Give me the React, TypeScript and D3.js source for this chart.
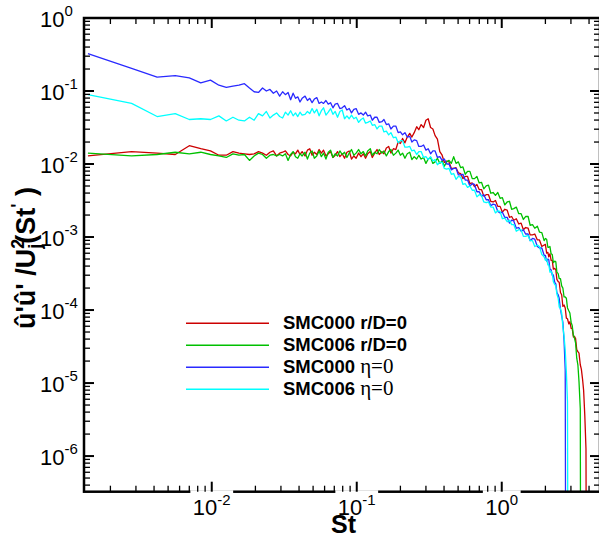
import React from 'react';
import * as d3 from 'd3';

// Strouhal numbers of the spectral bins (shared by all four spectra)
const stValues = [
  0.0014, 0.0028, 0.0042, 0.0056, 0.007, 0.0084, 0.0098, 0.0112, 0.0126, 0.014,
  0.0154, 0.0168, 0.0182, 0.0196, 0.021, 0.0224, 0.0238, 0.0252, 0.0266, 0.028,
  0.0294, 0.0308, 0.0322, 0.0336, 0.035, 0.0364, 0.0378, 0.0392, 0.0406, 0.042,
  0.044, 0.0457, 0.0474, 0.0492, 0.051, 0.053, 0.055, 0.057, 0.059, 0.0613,
  0.0636, 0.066, 0.0685, 0.071, 0.0737, 0.0765, 0.0794, 0.0824, 0.0855, 0.0887,
  0.092, 0.0955, 0.099, 0.103, 0.107, 0.111, 0.115, 0.119, 0.124, 0.128,
  0.133, 0.138, 0.143, 0.149, 0.154, 0.16, 0.166, 0.172, 0.179, 0.186,
  0.193, 0.2, 0.207, 0.215, 0.223, 0.232, 0.24, 0.249, 0.259, 0.268,
  0.278, 0.289, 0.3, 0.311, 0.323, 0.335, 0.347, 0.36, 0.374, 0.388,
  0.402, 0.417, 0.433, 0.449, 0.466, 0.484, 0.502, 0.521, 0.54, 0.56,
  0.581, 0.603, 0.626, 0.649, 0.674, 0.699, 0.725, 0.752, 0.781, 0.81,
  0.84, 0.872, 0.905, 0.939, 0.974, 1.01, 1.05, 1.09, 1.13, 1.17,
  1.21, 1.26, 1.31, 1.36, 1.41, 1.46, 1.52, 1.57, 1.63, 1.69,
  1.76, 1.82, 1.89, 1.96,
  2.0, 2.04, 2.08, 2.11, 2.15, 2.19, 2.23, 2.27, 2.32, 2.36,
  2.4, 2.45, 2.49, 2.54, 2.59, 2.64, 2.69, 2.74, 2.79, 2.84,
  2.9, 2.95, 3.01, 3.06, 3.12, 3.17, 3.23, 3.29, 3.35, 3.41,
  3.48, 3.54, 3.61, 3.67, 3.74, 3.81, 3.88,
];

// SMC000, jet axis (r/D = 0)
const psdSmc000Axis = [
  0.0129, 0.0148, 0.0141, 0.0135, 0.0178, 0.0162, 0.0151, 0.0132, 0.0132, 0.0148,
  0.0141, 0.0138, 0.0135, 0.0138, 0.0148, 0.0141, 0.0132, 0.0145, 0.0151, 0.0129,
  0.0141, 0.0145, 0.0151, 0.0135, 0.0129, 0.0145, 0.0138, 0.0155, 0.0135, 0.0148,
  0.0129, 0.0155, 0.0162, 0.0132, 0.0145, 0.0135, 0.0158, 0.0141, 0.0155, 0.0129,
  0.0138, 0.0148, 0.0123, 0.0132, 0.0148, 0.0126, 0.0138, 0.012, 0.0145, 0.0151,
  0.0117, 0.0129, 0.012, 0.0141, 0.0126, 0.0138, 0.012, 0.0138, 0.0148, 0.0123,
  0.0141, 0.0158, 0.0135, 0.0148, 0.0138, 0.0166, 0.0174, 0.0141, 0.0162, 0.0158,
  0.02, 0.0191, 0.0224, 0.0195, 0.0234, 0.0263, 0.0234, 0.0269, 0.0324, 0.0295,
  0.0347, 0.0316, 0.0398, 0.0417, 0.0316, 0.0302, 0.0245, 0.0219, 0.0148, 0.0132,
  0.0105, 0.011, 0.0107, 0.00871, 0.00871, 0.00891, 0.00759, 0.00741, 0.00631, 0.00676,
  0.00676, 0.00537, 0.0055, 0.0049, 0.00525, 0.00447, 0.00447, 0.00363, 0.0038, 0.0038,
  0.00309, 0.00302, 0.00316, 0.00263, 0.00263, 0.00219, 0.0024, 0.00234, 0.00186, 0.00191,
  0.0017, 0.00178, 0.00151, 0.00155, 0.00126, 0.00135, 0.00132, 0.00107, 0.00107, 0.0011,
  0.000912, 0.000912, 0.000741, 0.000776,
  0.000794, 0.000603, 0.000617, 0.000537, 0.000589, 0.000479, 0.000479, 0.000363, 0.000372, 0.000355,
  0.000263, 0.000245, 0.00024, 0.000174, 0.000162, 0.000112, 0.000117, 0.000107, 0.0000776, 0.0000759,
  0.0000646, 0.0000692, 0.0000562, 0.0000562, 0.0000427, 0.0000437, 0.0000407, 0.0000288, 0.0000269, 0.0000257,
  0.0000178, 0.0000155, 0.0000112, 0.00000794, 0.00000355, 0.00000126, 1e-12,
];

// SMC006, jet axis (r/D = 0)
const psdSmc006Axis = [
  0.0141, 0.0129, 0.0135, 0.0145, 0.0138, 0.0145, 0.0135, 0.0129, 0.0123, 0.0138,
  0.0132, 0.0135, 0.0112, 0.0129, 0.0141, 0.0135, 0.012, 0.0132, 0.0135, 0.0129,
  0.0135, 0.0129, 0.0138, 0.0112, 0.0135, 0.0148, 0.0126, 0.012, 0.0138, 0.0129,
  0.0145, 0.0117, 0.0141, 0.0151, 0.012, 0.0129, 0.0151, 0.0126, 0.0141, 0.0117,
  0.0145, 0.0155, 0.0123, 0.0138, 0.0129, 0.0151, 0.0135, 0.0145, 0.0123, 0.0141,
  0.0158, 0.0132, 0.0141, 0.0158, 0.0138, 0.0148, 0.0129, 0.0151, 0.0162, 0.0132,
  0.0145, 0.0138, 0.0158, 0.0141, 0.0151, 0.0129, 0.0148, 0.0158, 0.0132, 0.0141,
  0.0155, 0.0132, 0.0141, 0.012, 0.0138, 0.0145, 0.0115, 0.0126, 0.0117, 0.0132,
  0.0117, 0.0123, 0.0102, 0.0117, 0.0123, 0.0102, 0.0107, 0.012, 0.0102, 0.011,
  0.00933, 0.0107, 0.0112, 0.0102, 0.0126, 0.0102, 0.0107, 0.00891, 0.00912, 0.00724,
  0.00794, 0.00794, 0.00631, 0.00631, 0.00676, 0.0055, 0.00562, 0.00457, 0.00501, 0.00513,
  0.00398, 0.00407, 0.00372, 0.00407, 0.00339, 0.00347, 0.00275, 0.00302, 0.00309, 0.0024,
  0.00245, 0.00257, 0.00209, 0.00209, 0.00174, 0.00191, 0.00191, 0.00145, 0.00148, 0.00132,
  0.00141, 0.00117, 0.00115, 0.000891,
  0.000955, 0.000933, 0.000724, 0.000724, 0.000741, 0.000589, 0.000575, 0.000447, 0.000468, 0.000457,
  0.000331, 0.000316, 0.000269, 0.000269, 0.000214, 0.0002, 0.000151, 0.000151, 0.000145, 0.000107,
  0.0000977, 0.0000912, 0.0000676, 0.0000617, 0.0000447, 0.0000417, 0.0000355, 0.0000219, 0.0000178, 0.0000105,
  0.00000447, 1e-12,
];

// SMC000, lip line (eta = 0)
const psdSmc000Lip = [
  0.324, 0.204, 0.155, 0.162, 0.151, 0.129, 0.141, 0.12, 0.112, 0.117,
  0.12, 0.126, 0.11, 0.0977, 0.0955, 0.11, 0.1, 0.105, 0.0933, 0.1,
  0.0851, 0.0977, 0.0891, 0.0955, 0.0759, 0.0933, 0.0794, 0.0832, 0.0708, 0.0794,
  0.0851, 0.0741, 0.0794, 0.0692, 0.0776, 0.0813, 0.0676, 0.0708, 0.0676, 0.0741,
  0.0661, 0.0692, 0.0589, 0.0661, 0.0676, 0.0575, 0.0589, 0.0631, 0.055, 0.0575,
  0.0501, 0.0562, 0.0575, 0.0479, 0.0501, 0.0468, 0.0513, 0.0457, 0.0468, 0.0398,
  0.0437, 0.0437, 0.0372, 0.038, 0.0407, 0.0347, 0.0355, 0.0302, 0.0331, 0.0331,
  0.0269, 0.0275, 0.0251, 0.0269, 0.0234, 0.024, 0.02, 0.0214, 0.0209, 0.0174,
  0.0174, 0.0182, 0.0155, 0.0162, 0.0138, 0.0151, 0.0151, 0.0123, 0.0126, 0.0112,
  0.0117, 0.01, 0.01, 0.00832, 0.00871, 0.00871, 0.00708, 0.00708, 0.00724, 0.00603,
  0.00603, 0.00501, 0.00537, 0.00525, 0.00417, 0.00417, 0.00363, 0.0038, 0.00324, 0.00324,
  0.00269, 0.00282, 0.00275, 0.00224, 0.00214, 0.00219, 0.00186, 0.00186, 0.00155, 0.0017,
  0.00166, 0.00132, 0.00135, 0.0012, 0.00126, 0.0011, 0.0011, 0.000891, 0.000955, 0.000933,
  0.000741, 0.000708, 0.000708, 0.000562,
  0.000562, 0.000468, 0.000501, 0.00049, 0.000363, 0.000355, 0.000302, 0.000302, 0.00024, 0.000229,
  0.000174, 0.000162, 0.000145, 0.000102, 0.0000832, 0.0000676, 0.000038, 0.0000151, 1e-12,
];

// SMC006, lip line (eta = 0)
const psdSmc006Lip = [
  0.0891, 0.0676, 0.0447, 0.049, 0.0407, 0.0417, 0.0407, 0.0457, 0.0389, 0.0437,
  0.0398, 0.0389, 0.0437, 0.0398, 0.049, 0.0457, 0.0525, 0.0427, 0.0468, 0.0501,
  0.0447, 0.0427, 0.0513, 0.0468, 0.0537, 0.0457, 0.0501, 0.0447, 0.0513, 0.0468,
  0.0479, 0.0525, 0.049, 0.0575, 0.0501, 0.0562, 0.0457, 0.0537, 0.0589, 0.0468,
  0.0513, 0.0575, 0.0479, 0.0525, 0.0437, 0.0525, 0.055, 0.0417, 0.0457, 0.0417,
  0.0468, 0.0417, 0.0437, 0.0372, 0.0407, 0.0427, 0.0363, 0.0372, 0.0389, 0.0339,
  0.0347, 0.0302, 0.0331, 0.0331, 0.0275, 0.0282, 0.0251, 0.0269, 0.0229, 0.0234,
  0.0195, 0.0209, 0.0209, 0.017, 0.017, 0.0174, 0.0151, 0.0155, 0.0135, 0.0148,
  0.0148, 0.0123, 0.0126, 0.0115, 0.0126, 0.011, 0.0115, 0.00977, 0.0105, 0.0105,
  0.00871, 0.00851, 0.00871, 0.00724, 0.00741, 0.00617, 0.00676, 0.00661, 0.00525, 0.00537,
  0.00479, 0.00501, 0.00437, 0.00437, 0.00355, 0.0038, 0.00372, 0.00302, 0.00295, 0.00302,
  0.00257, 0.00257, 0.00214, 0.00229, 0.00224, 0.00178, 0.00182, 0.00162, 0.0017, 0.00148,
  0.00148, 0.0012, 0.00126, 0.00126, 0.00102, 0.00102, 0.00105, 0.000891, 0.000891, 0.000741,
  0.000776, 0.000741, 0.000575, 0.000537,
  0.000479, 0.000501, 0.000417, 0.000417, 0.000331, 0.000339, 0.000316, 0.000245, 0.000224, 0.000214,
  0.000166, 0.000145, 0.00011, 0.000105, 0.0000912, 0.0000589, 0.0000437, 0.0000282, 0.0000141, 0.00000562,
  1e-12,
];

const seriesNames = ['SMC000', 'SMC006', 'SMC000', 'SMC006'];
const seriesLocations = ['r/D=0', 'r/D=0', 'η=0', 'η=0'];
const seriesColors = ['#cc0000', '#00c000', '#2a2aff', '#00ffff'];
const seriesValues = [psdSmc000Axis, psdSmc006Axis, psdSmc000Lip, psdSmc006Lip];

const xMajorLabels = ['-2', '-1', '0'];
const yMajorLabels = ['0', '-1', '-2', '-3', '-4', '-5', '-6'];

const W = 599;
const H = 539;
const plot = { left: 84, right: 600, top: 18, bottom: 491.7 };
const xDomain: [number, number] = [0.001315, 4.76];
const yDomain: [number, number] = [1, 3.25e-7];

const SANS = 'Liberation Sans, Arial, Helvetica, sans-serif';
const SERIF = 'Liberation Serif, Times New Roman, serif';

const isDecade = (v: number) => Math.abs(Math.log10(v) - Math.round(Math.log10(v))) < 1e-6;

export default function App() {
  const x = d3.scaleLog().domain(xDomain).range([plot.left, plot.right]);
  const y = d3.scaleLog().domain(yDomain).range([plot.top, plot.bottom]);
  const line = d3
    .line<[number, number]>()
    .x((d) => x(d[0]))
    .y((d) => y(d[1]));

  const xTicks = x.ticks();
  const yTicks = y.ticks();
  const xMajors = xTicks.filter(isDecade);
  const yMajors = yTicks.filter(isDecade).sort((a, b) => b - a);

  const majorLen = 10;
  const minorLen = 6;

  const digitW = 0.556;
  const minusW = 0.333;
  const supWidth = (s: string) =>
    s.split('').reduce((acc, c) => acc + (c === '-' ? minusW : digitW), 0) * 15;

  return (
    <svg
      width={W}
      height={H}
      style={{ position: 'absolute', left: 0, top: 0, background: '#fff' }}
      fontFamily={SANS}
    >
      <defs>
        <clipPath id="plot-clip">
          <rect
            x={plot.left}
            y={plot.top}
            width={plot.right - plot.left}
            height={plot.bottom - plot.top}
          />
        </clipPath>
      </defs>
      <rect x={0} y={0} width={W} height={H} fill="#fff" />

      {/* spectra */}
      <g clipPath="url(#plot-clip)" fill="none" strokeWidth={1.3} strokeLinejoin="round">
        {seriesValues.map((vals, i) => {
          const pts = vals.map((v, k) => [stValues[k], v] as [number, number]);
          return <path key={i} d={line(pts) ?? ''} stroke={seriesColors[i]} />;
        })}
      </g>

      {/* frame */}
      <rect
        x={plot.left}
        y={plot.top}
        width={plot.right - plot.left}
        height={plot.bottom - plot.top}
        fill="none"
        stroke="#000"
        strokeWidth={2.5}
      />

      {/* label backings that interrupt the bottom axis line */}
      {xMajors.map((v, i) => {
        const w = 12.23 * 2 + supWidth(xMajorLabels[i] ?? '') + 5;
        return (
          <rect key={`bg${i}`} x={x(v) - w / 2} y={490.2} width={w} height={24} fill="#fff" />
        );
      })}

      {/* ticks */}
      <g stroke="#000">
        {xTicks.map((v, i) => {
          const len = isDecade(v) ? majorLen : minorLen;
          const sw = isDecade(v) ? 2 : 1.3;
          const px = x(v);
          return (
            <g key={`xt${i}`} strokeWidth={sw}>
              <line x1={px} x2={px} y1={plot.bottom} y2={plot.bottom - len} />
              <line x1={px} x2={px} y1={plot.top} y2={plot.top + len} />
            </g>
          );
        })}
        {yTicks.map((v, i) => {
          const len = isDecade(v) ? majorLen : minorLen;
          const sw = isDecade(v) ? 2 : 1.3;
          const py = y(v);
          return (
            <g key={`yt${i}`} strokeWidth={sw}>
              <line x1={plot.left} x2={plot.left + len} y1={py} y2={py} />
              <line x1={plot.right} x2={plot.right - len} y1={py} y2={py} />
            </g>
          );
        })}
      </g>

      {/* x tick labels */}
      {xMajors.map((v, i) => (
        <text key={`xl${i}`} x={x(v)} y={515} fontSize={22} textAnchor="middle" fill="#000">
          10
          <tspan dy={-10} fontSize={15}>
            {xMajorLabels[i]}
          </tspan>
        </text>
      ))}

      {/* y tick labels */}
      {yMajors.map((v, i) => (
        <text key={`yl${i}`} x={40} y={y(v) + 9} fontSize={22} fill="#000">
          10
          <tspan dy={-11} fontSize={15}>
            {yMajorLabels[i]}
          </tspan>
        </text>
      ))}

      {/* axis titles */}
      <text x={343.5} y={533} fontSize={25} fontWeight="bold" textAnchor="middle" fill="#000">
        St
      </text>
      <text
        transform="translate(35,258) rotate(-90)"
        fontSize={27}
        fontWeight="bold"
        textAnchor="middle"
        fill="#000"
      >
        {"û'û' /U"}
        <tspan dy={-11} fontSize={18}>
          2
        </tspan>
        <tspan dx={-10} dy={17} fontSize={18}>
          j
        </tspan>
        <tspan dy={-6}>(St</tspan>
        <tspan dy={-11} fontSize={18}>
          {"'"}
        </tspan>
        <tspan dy={11}>{' )'}</tspan>
      </text>

      {/* legend */}
      {seriesNames.map((name, i) => {
        const ly = 323.3 + i * 22;
        const loc = seriesLocations[i];
        const greek = loc.startsWith('η');
        return (
          <g key={`lg${i}`}>
            <line x1={186} x2={269} y1={ly} y2={ly} stroke={seriesColors[i]} strokeWidth={1.5} />
            <text x={283} y={ly + 6} fontSize={18.5} fontWeight="bold" fill="#000">
              {name + ' '}
              {greek ? (
                <tspan fontFamily={SERIF} fontWeight="normal" fontSize={21}>
                  {loc}
                </tspan>
              ) : (
                loc
              )}
            </text>
          </g>
        );
      })}
    </svg>
  );
}
